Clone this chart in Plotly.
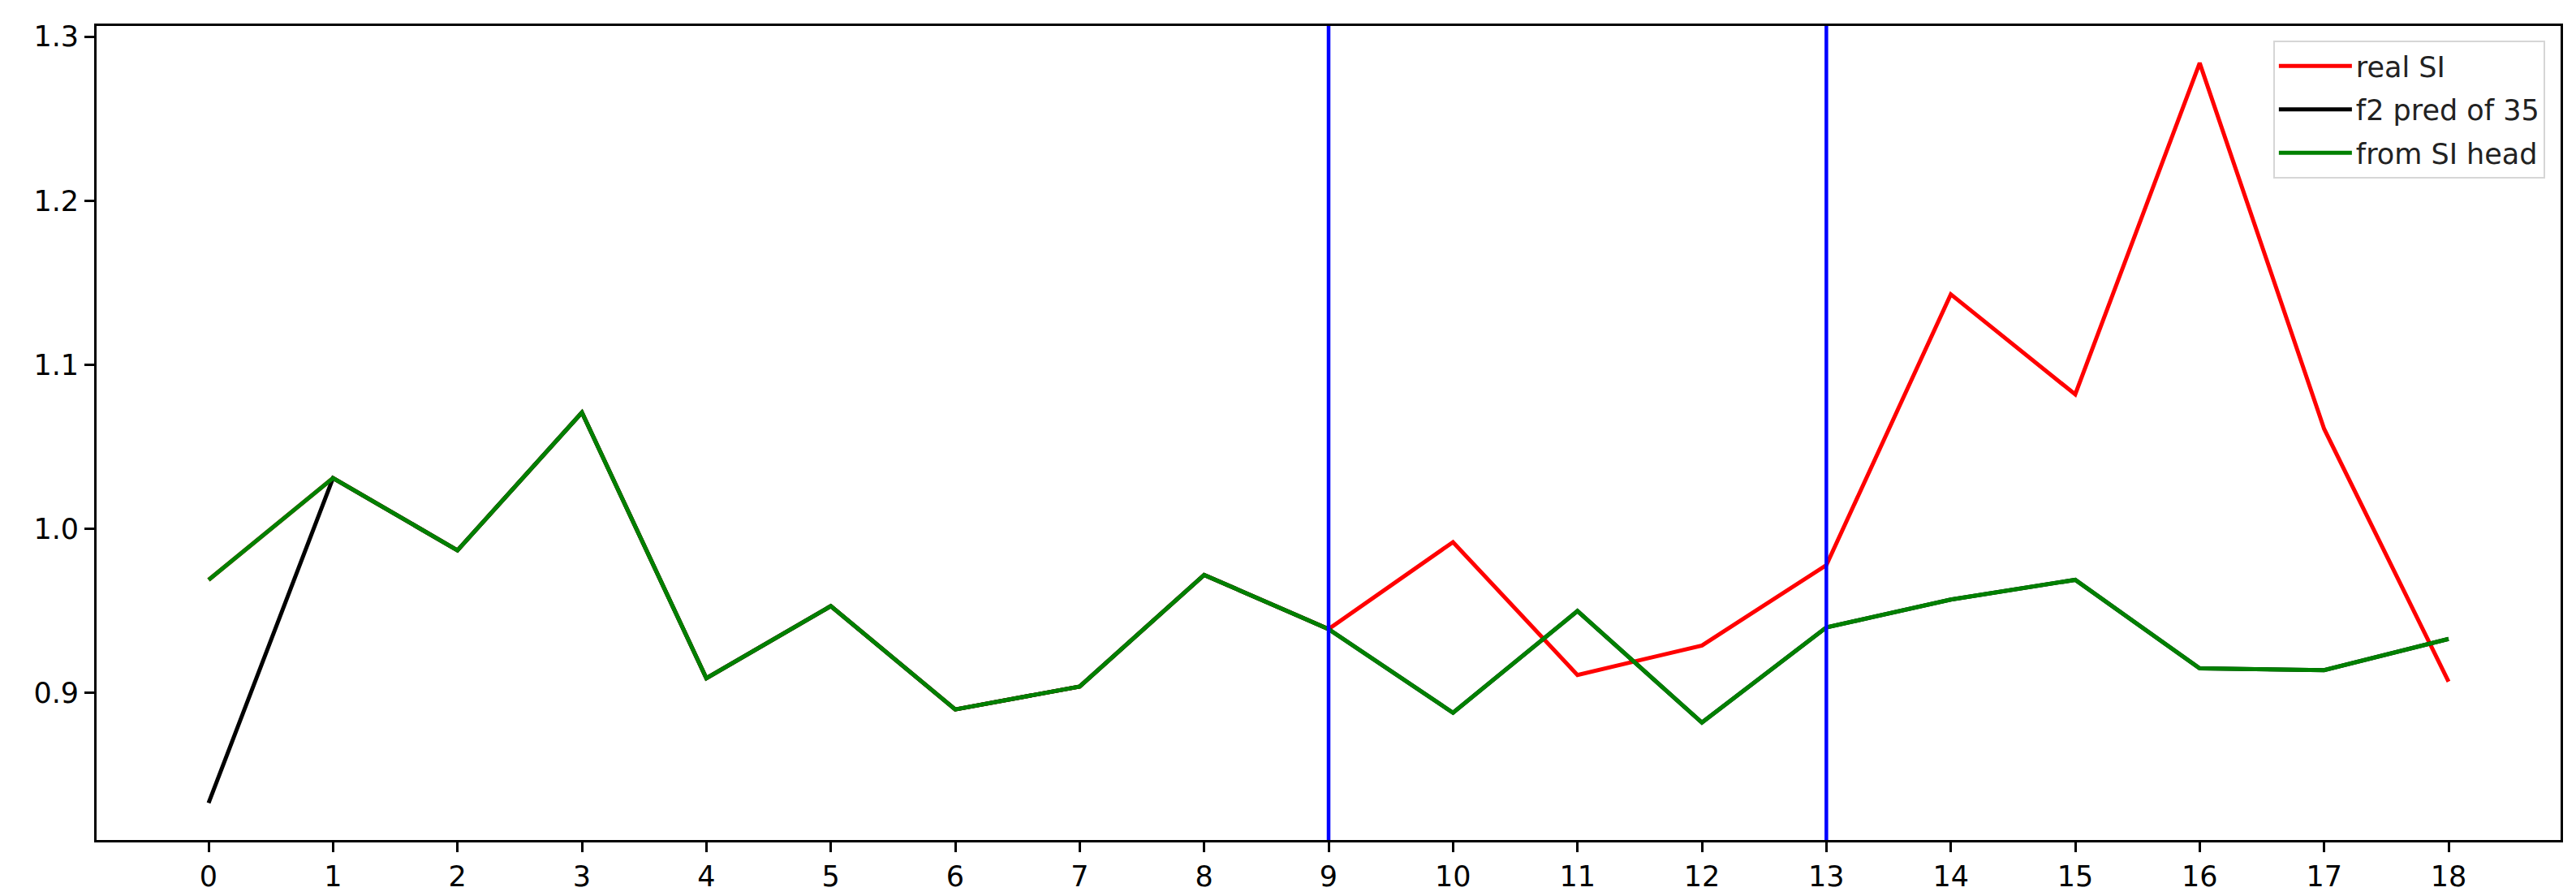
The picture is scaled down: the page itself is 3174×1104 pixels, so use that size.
import plotly.graph_objects as go
import numpy as np

# values
steps = list(range(19))
real_si = [0.969, 1.031, 0.987, 1.071, 0.909, 0.953, 0.890, 0.904, 0.972, 0.939,
           0.992, 0.911, 0.929, 0.978, 1.143, 1.082, 1.284, 1.061, 0.907]
f2_pred = [0.833, 1.031, 0.987, 1.071, 0.909, 0.953, 0.890, 0.904, 0.972, 0.939,
           0.888, 0.950, 0.882, 0.940, 0.957, 0.969, 0.915, 0.914, 0.933]
from_head = [0.969, 1.031, 0.987, 1.071, 0.909, 0.953, 0.890, 0.904, 0.972, 0.939,
             0.888, 0.950, 0.882, 0.940, 0.957, 0.969, 0.915, 0.914, 0.933]
marks = [9, 13]
y_ticks = [0.9, 1.0, 1.1, 1.2, 1.3]

W, H = 3174, 1104
FONT = "DejaVu Sans"
FS = 35
LW = 5

fig = go.Figure()
fig.add_trace(go.Scatter(x=steps, y=real_si, mode="lines", name="real SI",
                         legendgroup="a", line=dict(color="red", width=LW)))
fig.add_trace(go.Scatter(x=steps, y=f2_pred, mode="lines", name="f2 pred of 35",
                         legendgroup="b", line=dict(color="black", width=LW)))
fig.add_trace(go.Scatter(x=steps, y=from_head, mode="lines", name="from SI head",
                         legendgroup="c", line=dict(color="green", width=LW)))

for m in marks:
    fig.add_vline(x=m, line=dict(color="blue", width=4.5))

# matplotlib-like 5% margins
allv = np.array(real_si + f2_pred + from_head)
lo, hi = allv.min(), allv.max()
pad = (hi - lo) * 0.05
xpad = (max(steps) - min(steps)) * 0.05

axis_common = dict(showline=True, mirror=True, linecolor="black", linewidth=2.8,
                   ticks="outside", ticklen=12, tickwidth=2.8, tickcolor="black",
                   showgrid=False, zeroline=False,
                   tickfont=dict(family=FONT, size=FS, color="black"))

fig.update_layout(
    width=W, height=H,
    margin=dict(l=111, r=27, t=24, b=75),
    plot_bgcolor="white", paper_bgcolor="white",
    font=dict(family=FONT, size=FS, color="black"),
    xaxis=dict(range=[min(steps) - xpad, max(steps) + xpad], tickmode="array",
               tickvals=steps, **axis_common),
    yaxis=dict(range=[lo - pad, hi + pad], tickmode="array", tickvals=y_ticks,
               tickformat=".1f", **axis_common),
    legend=dict(x=0.9937, y=0.982, xanchor="right", yanchor="top",
                bgcolor="rgba(255,255,255,0.8)", bordercolor="#d6d6d6", borderwidth=2,
                font=dict(family=FONT, size=FS, color="#222"), itemwidth=90,
                tracegroupgap=5),
    showlegend=True,
)

fig.write_html("out.html")
